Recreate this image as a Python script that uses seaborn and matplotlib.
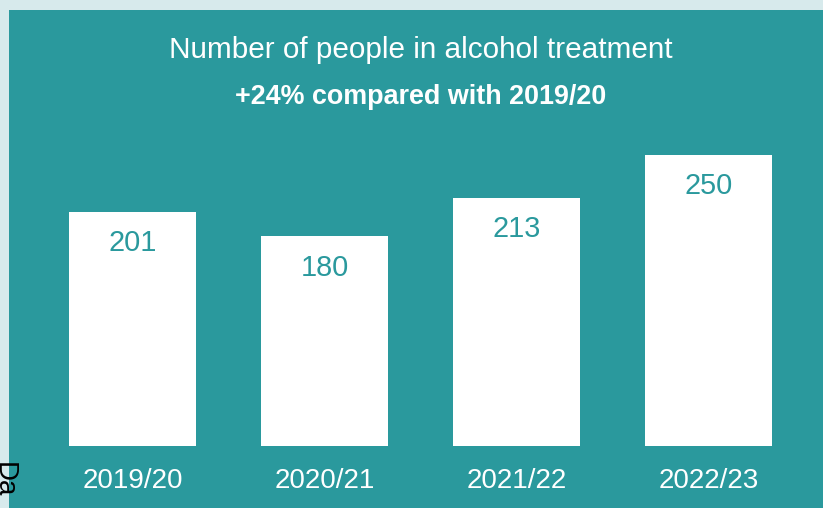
import matplotlib
matplotlib.use("Agg")
import matplotlib.pyplot as plt
import seaborn as sns
import pandas as pd
from matplotlib.patches import Rectangle

years = ["2019/20", "2020/21", "2021/22", "2022/23"]
people = [201, 180, 213, 250]
title = "Number of people in alcohol treatment"
subtitle = "+24% compared with 2019/20"

TEAL = "#2A999D"
BORDER = "#D7EAEC"
W, H = 823, 508

sns.set_theme(style="white")
plt.rcParams["font.family"] = ["Liberation Sans", "DejaVu Sans"]

fig = plt.figure(figsize=(W / 100, H / 100), dpi=100, facecolor=BORDER)
fig.patches.append(Rectangle((9 / W, 0), 1 - 9 / W, (H - 10) / H,
                             transform=fig.transFigure, facecolor=TEAL,
                             edgecolor="none", zorder=-10))

ymax = 300
px_per_unit = 1.166
ax_bottom_px = 446
ax_h_px = ymax * px_per_unit
ax = fig.add_axes([36.5 / W, (H - ax_bottom_px) / H, 768 / W, ax_h_px / H])
ax.set_facecolor("none")
ax.set_zorder(5)

df = pd.DataFrame({"year": years, "people": people})
sns.barplot(data=df, x="year", y="people", color="white", saturation=1,
            width=0.66, ax=ax, edgecolor="none")
ax.set_xlim(-0.5, 3.5)
ax.set_ylim(0, ymax)
for s in ax.spines.values():
    s.set_visible(False)
ax.set_yticks([])
ax.set_xlabel("")
ax.set_ylabel("")
ax.tick_params(axis="x", length=0, pad=42 * 0.72, labelsize=20, labelcolor="white")
for lab in ax.get_xticklabels():
    lab.set_verticalalignment("baseline")

for i, v in enumerate(people):
    ax.annotate(str(v), (i, v), xytext=(0, -39.5 * 0.72), textcoords="offset points",
                ha="center", va="baseline", fontsize=20.8, color=TEAL)

cx = 420.5 / W
fig.text(cx, 1 - 58 / H, title, ha="center", va="baseline", fontsize=21.4, color="white")
fig.text(cx, 1 - 104 / H, subtitle, ha="center", va="baseline", fontsize=19.4,
         color="white", fontweight="bold")

fig.text(17 / W, 1 - 462 / H, "Da", rotation=-90, ha="right", va="top",
         fontsize=20, color="black")

fig.savefig("out.png", dpi=100, facecolor=fig.get_facecolor())
